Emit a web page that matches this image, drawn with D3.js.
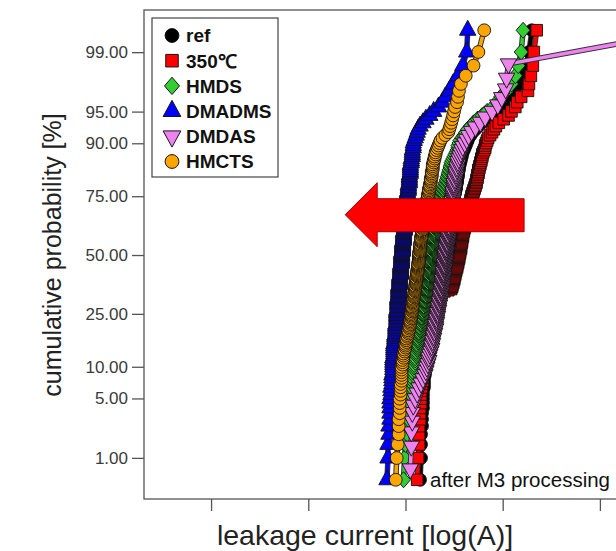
<!DOCTYPE html>
<html>
<head>
<meta charset="utf-8">
<script src="https://cdnjs.cloudflare.com/ajax/libs/d3/7.8.5/d3.min.js"></script>
<style>
  html, body { margin: 0; padding: 0; background: #fff; }
  svg { display: block; font-family: "Liberation Sans", Arial, Helvetica, sans-serif; }
</style>
</head>
<body>
<svg id="chart" width="616" height="551"></svg>
<script>
// ---- data: sorted leakage currents, log10(A), one array per process ----
const seriesNames  = ["ref", "350\u2103", "HMDS", "DMADMS", "DMDAS", "HMCTS"];
const seriesColors = ["#000000", "#ff0000", "#33cc33", "#0000ff", "#ee82ee", "#ffa500"];
const seriesShapes = ["circle", "square", "diamond", "triangleUp", "triangleDown", "circle"];
const probTicks    = [1, 5, 10, 25, 50, 75, 90, 95, 99];
const currentTicks = [-13, -12, -11, -10, -9];

const refValues = [
  -10.85,-10.84,-10.84,-10.84,-10.83,-10.83,-10.83,-10.82,-10.82,-10.82,
  -10.82,-10.82,-10.81,-10.81,-10.81,-10.81,-10.80,-10.80,-10.80,-10.80,
  -10.80,-10.80,-10.79,-10.79,-10.79,-10.78,-10.78,-10.78,-10.77,-10.77,
  -10.77,-10.77,-10.76,-10.76,-10.76,-10.75,-10.75,-10.75,-10.74,-10.74,
  -10.74,-10.74,-10.73,-10.73,-10.73,-10.72,-10.72,-10.72,-10.71,-10.71,
  -10.71,-10.71,-10.70,-10.70,-10.70,-10.69,-10.69,-10.69,-10.68,-10.68,
  -10.68,-10.68,-10.67,-10.67,-10.67,-10.67,-10.66,-10.66,-10.66,-10.66,
  -10.66,-10.66,-10.65,-10.65,-10.65,-10.65,-10.64,-10.64,-10.64,-10.64,
  -10.64,-10.64,-10.63,-10.63,-10.63,-10.63,-10.62,-10.62,-10.62,-10.62,
  -10.62,-10.62,-10.61,-10.61,-10.61,-10.61,-10.60,-10.60,-10.60,-10.60,
  -10.60,-10.60,-10.59,-10.59,-10.59,-10.59,-10.58,-10.58,-10.58,-10.58,
  -10.58,-10.58,-10.57,-10.57,-10.57,-10.57,-10.56,-10.56,-10.56,-10.56,
  -10.56,-10.56,-10.55,-10.55,-10.55,-10.55,-10.54,-10.54,-10.54,-10.54,
  -10.54,-10.54,-10.53,-10.53,-10.53,-10.53,-10.52,-10.52,-10.52,-10.52,
  -10.52,-10.52,-10.51,-10.51,-10.51,-10.51,-10.50,-10.50,-10.50,-10.50,
  -10.50,-10.50,-10.49,-10.49,-10.49,-10.48,-10.48,-10.48,-10.48,-10.47,
  -10.47,-10.47,-10.47,-10.46,-10.46,-10.46,-10.46,-10.45,-10.45,-10.45,
  -10.44,-10.44,-10.43,-10.43,-10.42,-10.42,-10.41,-10.40,-10.39,-10.38,
  -10.37,-10.36,-10.35,-10.33,-10.31,-10.28,-10.25,-10.22,-10.17,-10.11,
  -10.07,-10.03,-9.98,-9.93,-9.88,-9.82,-9.79,-9.76,-9.73,-9.70
];

const anneal350Values = [
  -10.88,-10.87,-10.86,-10.86,-10.86,-10.85,-10.85,-10.85,-10.84,-10.84,
  -10.84,-10.84,-10.83,-10.83,-10.82,-10.82,-10.82,-10.81,-10.81,-10.80,
  -10.80,-10.80,-10.80,-10.79,-10.79,-10.79,-10.79,-10.78,-10.78,-10.78,
  -10.78,-10.78,-10.77,-10.77,-10.77,-10.77,-10.77,-10.76,-10.76,-10.76,
  -10.76,-10.75,-10.75,-10.75,-10.74,-10.74,-10.74,-10.73,-10.73,-10.73,
  -10.72,-10.72,-10.71,-10.71,-10.70,-10.70,-10.69,-10.69,-10.68,-10.68,
  -10.68,-10.67,-10.67,-10.67,-10.66,-10.66,-10.64,-10.60,-10.56,-10.53,
  -10.53,-10.52,-10.52,-10.52,-10.51,-10.51,-10.51,-10.50,-10.50,-10.50,
  -10.50,-10.49,-10.49,-10.49,-10.49,-10.48,-10.48,-10.48,-10.47,-10.47,
  -10.47,-10.47,-10.46,-10.46,-10.46,-10.46,-10.45,-10.45,-10.45,-10.45,
  -10.45,-10.44,-10.44,-10.44,-10.44,-10.43,-10.43,-10.43,-10.43,-10.43,
  -10.43,-10.42,-10.42,-10.42,-10.42,-10.42,-10.41,-10.41,-10.41,-10.41,
  -10.41,-10.40,-10.40,-10.40,-10.39,-10.39,-10.39,-10.39,-10.38,-10.38,
  -10.38,-10.37,-10.37,-10.37,-10.36,-10.36,-10.36,-10.36,-10.35,-10.35,
  -10.35,-10.35,-10.34,-10.34,-10.34,-10.33,-10.33,-10.33,-10.32,-10.32,
  -10.32,-10.31,-10.31,-10.30,-10.30,-10.29,-10.29,-10.28,-10.28,-10.27,
  -10.27,-10.27,-10.26,-10.26,-10.26,-10.25,-10.25,-10.25,-10.24,-10.24,
  -10.23,-10.23,-10.22,-10.22,-10.21,-10.21,-10.20,-10.19,-10.18,-10.18,
  -10.17,-10.16,-10.15,-10.13,-10.11,-10.09,-10.07,-10.04,-9.99,-9.94,
  -9.91,-9.87,-9.85,-9.81,-9.74,-9.73,-9.71,-9.69,-9.68,-9.65
];

const hmdsValues = [
  -11.02,-11.01,-11.00,-10.98,-10.98,-10.97,-10.97,-10.96,-10.96,-10.95,
  -10.95,-10.94,-10.94,-10.93,-10.93,-10.93,-10.92,-10.92,-10.91,-10.91,
  -10.91,-10.90,-10.90,-10.90,-10.89,-10.89,-10.89,-10.88,-10.88,-10.88,
  -10.88,-10.87,-10.87,-10.87,-10.86,-10.86,-10.86,-10.86,-10.85,-10.85,
  -10.85,-10.84,-10.84,-10.84,-10.83,-10.83,-10.83,-10.83,-10.82,-10.82,
  -10.82,-10.82,-10.81,-10.81,-10.81,-10.81,-10.80,-10.80,-10.80,-10.80,
  -10.80,-10.79,-10.79,-10.79,-10.79,-10.78,-10.78,-10.78,-10.78,-10.78,
  -10.78,-10.77,-10.77,-10.77,-10.77,-10.77,-10.76,-10.76,-10.76,-10.76,
  -10.76,-10.76,-10.76,-10.75,-10.75,-10.75,-10.75,-10.75,-10.75,-10.75,
  -10.74,-10.74,-10.74,-10.74,-10.74,-10.74,-10.73,-10.73,-10.73,-10.73,
  -10.73,-10.73,-10.73,-10.73,-10.72,-10.72,-10.72,-10.72,-10.72,-10.72,
  -10.72,-10.71,-10.71,-10.71,-10.71,-10.71,-10.71,-10.70,-10.70,-10.70,
  -10.70,-10.70,-10.70,-10.69,-10.69,-10.69,-10.69,-10.69,-10.68,-10.68,
  -10.68,-10.68,-10.68,-10.67,-10.67,-10.67,-10.67,-10.66,-10.66,-10.66,
  -10.66,-10.66,-10.65,-10.65,-10.65,-10.64,-10.64,-10.64,-10.63,-10.63,
  -10.63,-10.62,-10.62,-10.62,-10.61,-10.61,-10.60,-10.60,-10.59,-10.59,
  -10.58,-10.58,-10.57,-10.57,-10.56,-10.56,-10.55,-10.55,-10.54,-10.54,
  -10.53,-10.53,-10.52,-10.51,-10.50,-10.49,-10.48,-10.47,-10.46,-10.46,
  -10.45,-10.44,-10.42,-10.40,-10.38,-10.36,-10.33,-10.30,-10.26,-10.21,
  -10.16,-10.10,-10.06,-10.02,-9.96,-9.91,-9.87,-9.84,-9.81,-9.79
];

const dmadmsValues = [
  -11.19,-11.18,-11.18,-11.17,-11.17,-11.16,-11.16,-11.16,-11.16,-11.16,
  -11.15,-11.15,-11.15,-11.14,-11.14,-11.14,-11.14,-11.13,-11.13,-11.13,
  -11.13,-11.13,-11.13,-11.13,-11.12,-11.12,-11.12,-11.12,-11.12,-11.12,
  -11.12,-11.11,-11.11,-11.11,-11.11,-11.11,-11.10,-11.10,-11.10,-11.10,
  -11.10,-11.10,-11.10,-11.09,-11.09,-11.09,-11.09,-11.09,-11.09,-11.09,
  -11.09,-11.09,-11.09,-11.08,-11.08,-11.08,-11.08,-11.08,-11.08,-11.08,
  -11.08,-11.08,-11.08,-11.07,-11.07,-11.07,-11.07,-11.07,-11.07,-11.07,
  -11.07,-11.07,-11.07,-11.06,-11.06,-11.06,-11.06,-11.06,-11.06,-11.06,
  -11.06,-11.06,-11.05,-11.05,-11.05,-11.05,-11.05,-11.05,-11.05,-11.05,
  -11.05,-11.05,-11.04,-11.04,-11.04,-11.04,-11.04,-11.04,-11.04,-11.04,
  -11.04,-11.04,-11.04,-11.03,-11.03,-11.03,-11.03,-11.03,-11.03,-11.03,
  -11.03,-11.03,-11.03,-11.02,-11.02,-11.02,-11.02,-11.02,-11.02,-11.02,
  -11.02,-11.02,-11.01,-11.01,-11.01,-11.01,-11.01,-11.01,-11.01,-11.01,
  -11.01,-11.00,-11.00,-11.00,-11.00,-11.00,-10.99,-10.99,-10.99,-10.99,
  -10.99,-10.99,-10.99,-10.99,-10.99,-10.98,-10.98,-10.98,-10.98,-10.98,
  -10.98,-10.98,-10.98,-10.98,-10.97,-10.97,-10.97,-10.97,-10.97,-10.96,
  -10.96,-10.96,-10.96,-10.96,-10.96,-10.95,-10.95,-10.95,-10.95,-10.95,
  -10.95,-10.94,-10.94,-10.94,-10.93,-10.93,-10.93,-10.93,-10.92,-10.92,
  -10.92,-10.91,-10.90,-10.89,-10.88,-10.87,-10.85,-10.82,-10.79,-10.75,
  -10.71,-10.66,-10.62,-10.59,-10.55,-10.51,-10.46,-10.41,-10.37,-10.36
];

const dmdasValues = [
  -10.95,-10.94,-10.94,-10.93,-10.93,-10.92,-10.90,-10.88,-10.86,-10.84,
  -10.82,-10.80,-10.79,-10.78,-10.77,-10.76,-10.76,-10.75,-10.74,-10.73,
  -10.73,-10.72,-10.72,-10.71,-10.71,-10.70,-10.70,-10.69,-10.69,-10.69,
  -10.68,-10.68,-10.68,-10.67,-10.67,-10.67,-10.66,-10.66,-10.66,-10.65,
  -10.65,-10.65,-10.64,-10.64,-10.64,-10.64,-10.63,-10.63,-10.63,-10.63,
  -10.62,-10.62,-10.62,-10.62,-10.62,-10.61,-10.61,-10.61,-10.61,-10.61,
  -10.60,-10.60,-10.60,-10.60,-10.60,-10.59,-10.59,-10.59,-10.59,-10.59,
  -10.59,-10.58,-10.58,-10.58,-10.58,-10.57,-10.57,-10.57,-10.57,-10.56,
  -10.56,-10.56,-10.56,-10.56,-10.55,-10.55,-10.55,-10.55,-10.55,-10.54,
  -10.54,-10.54,-10.54,-10.53,-10.53,-10.53,-10.53,-10.53,-10.52,-10.52,
  -10.52,-10.52,-10.52,-10.51,-10.51,-10.51,-10.51,-10.51,-10.50,-10.50,
  -10.50,-10.50,-10.49,-10.49,-10.48,-10.48,-10.48,-10.47,-10.47,-10.46,
  -10.46,-10.45,-10.44,-10.43,-10.42,-10.41,-10.39,-10.37,-10.35,-10.32,
  -10.28,-10.23,-10.18,-10.11,-10.05,-10.01,-9.97,-9.96,-9.94,-8.67
];

const hmctsValues = [
  -11.10,-11.09,-11.08,-11.07,-11.07,-11.07,-11.06,-11.06,-11.06,-11.06,
  -11.05,-11.05,-11.05,-11.05,-11.04,-11.04,-11.04,-11.04,-11.04,-11.04,
  -11.03,-11.03,-11.03,-11.02,-11.02,-11.02,-11.01,-11.01,-11.00,-11.00,
  -11.00,-10.99,-10.99,-10.99,-10.98,-10.98,-10.97,-10.97,-10.97,-10.96,
  -10.96,-10.96,-10.95,-10.95,-10.95,-10.95,-10.94,-10.94,-10.94,-10.94,
  -10.94,-10.93,-10.93,-10.93,-10.93,-10.93,-10.92,-10.92,-10.92,-10.92,
  -10.92,-10.92,-10.91,-10.91,-10.91,-10.91,-10.91,-10.90,-10.90,-10.90,
  -10.90,-10.90,-10.90,-10.89,-10.89,-10.89,-10.89,-10.89,-10.89,-10.89,
  -10.88,-10.88,-10.88,-10.88,-10.88,-10.88,-10.87,-10.87,-10.87,-10.87,
  -10.87,-10.87,-10.87,-10.86,-10.86,-10.86,-10.86,-10.86,-10.86,-10.86,
  -10.86,-10.86,-10.86,-10.85,-10.85,-10.85,-10.85,-10.85,-10.85,-10.85,
  -10.85,-10.84,-10.84,-10.84,-10.84,-10.84,-10.84,-10.83,-10.83,-10.83,
  -10.83,-10.83,-10.83,-10.82,-10.82,-10.82,-10.82,-10.82,-10.81,-10.81,
  -10.81,-10.81,-10.81,-10.80,-10.80,-10.80,-10.80,-10.80,-10.79,-10.79,
  -10.79,-10.79,-10.79,-10.78,-10.78,-10.78,-10.78,-10.78,-10.77,-10.77,
  -10.77,-10.77,-10.76,-10.76,-10.76,-10.76,-10.75,-10.75,-10.75,-10.74,
  -10.74,-10.74,-10.74,-10.73,-10.73,-10.73,-10.73,-10.72,-10.72,-10.72,
  -10.72,-10.71,-10.71,-10.70,-10.70,-10.69,-10.69,-10.68,-10.67,-10.66,
  -10.65,-10.64,-10.62,-10.59,-10.56,-10.55,-10.54,-10.53,-10.52,-10.51,
  -10.50,-10.49,-10.47,-10.46,-10.45,-10.43,-10.38,-10.30,-10.25,-10.19
];

const seriesValues = [refValues, anneal350Values, hmdsValues, dmadmsValues, dmdasValues, hmctsValues];

// ---- normal-probability helper (inverse standard normal CDF) ----
function probit(p) {
  const a = [-3.969683028665376e+01, 2.209460984245205e+02, -2.759285104469687e+02,
             1.383577518672690e+02, -3.066479806614716e+01, 2.506628277459239e+00];
  const b = [-5.447609879822406e+01, 1.615858368580409e+02, -1.556989798598866e+02,
             6.680131188771972e+01, -1.328068155288572e+01];
  const c = [-7.784894002430293e-03, -3.223964580411365e-01, -2.400758277161838e+00,
             -2.549732539343734e+00, 4.374664141464968e+00, 2.938163982698783e+00];
  const d = [7.784695709041462e-03, 3.224671290700398e-01, 2.445134137142996e+00,
             3.754408661907416e+00];
  const lo = 0.02425, hi = 1 - lo;
  let q, r;
  if (p < lo) {
    q = Math.sqrt(-2 * Math.log(p));
    return (((((c[0]*q+c[1])*q+c[2])*q+c[3])*q+c[4])*q+c[5]) / ((((d[0]*q+d[1])*q+d[2])*q+d[3])*q+1);
  }
  if (p <= hi) {
    q = p - 0.5; r = q * q;
    return (((((a[0]*r+a[1])*r+a[2])*r+a[3])*r+a[4])*r+a[5])*q / (((((b[0]*r+b[1])*r+b[2])*r+b[3])*r+b[4])*r+1);
  }
  q = Math.sqrt(-2 * Math.log(1 - p));
  return -(((((c[0]*q+c[1])*q+c[2])*q+c[3])*q+c[4])*q+c[5]) / ((((d[0]*q+d[1])*q+d[2])*q+d[3])*q+1);
}

// ---- layout ----
const svg = d3.select("#chart");
const plot = { left: 144, top: 10, width: 536, height: 489 };

const x = d3.scaleLinear().domain([-13.69, -8.176]).range([plot.left, plot.left + plot.width]);
const z = d3.scaleLinear().domain([-2.798, 2.810]).range([plot.top + plot.height, plot.top]);
const yProb = pct => z(probit(pct / 100));

// ---- marker shapes ----
const shapeTypes = {
  circle:       { draw(ctx) { ctx.moveTo(6.4, 0); ctx.arc(0, 0, 6.4, 0, 2 * Math.PI); } },
  square:       { draw(ctx) { ctx.rect(-5.8, -5.8, 11.6, 11.6); } },
  diamond:      { draw(ctx) { ctx.moveTo(0, -8); ctx.lineTo(7, 0); ctx.lineTo(0, 8); ctx.lineTo(-7, 0); ctx.closePath(); } },
  triangleUp:   { draw(ctx) { ctx.moveTo(0, -10); ctx.lineTo(8.2, 5); ctx.lineTo(-8.2, 5); ctx.closePath(); } },
  triangleDown: { draw(ctx) { ctx.moveTo(0, 10); ctx.lineTo(8.2, -5); ctx.lineTo(-8.2, -5); ctx.closePath(); } }
};
const symbolPath = name => d3.symbol().type(shapeTypes[name])();

// ---- frame ----
svg.append("rect")
  .attr("x", plot.left).attr("y", plot.top)
  .attr("width", plot.width).attr("height", plot.height)
  .attr("fill", "#fff").attr("stroke", "#555").attr("stroke-width", 1.3);

// left axis: probability on a normal scale
const yAxis = d3.axisLeft(z)
  .tickValues(probTicks.map(p => probit(p / 100)))
  .tickFormat((v, i) => probTicks[i].toFixed(2))
  .tickSize(12).tickPadding(4);
const gy = svg.append("g").attr("transform", `translate(${plot.left},0)`).call(yAxis);
gy.select(".domain").remove();
gy.selectAll(".tick line").attr("stroke", "#555").attr("stroke-width", 1.3);
gy.selectAll(".tick text").attr("fill", "#3a3a3a").style("font-size", "17px");

// bottom axis: log current, unlabeled decades
const xAxis = d3.axisBottom(x).tickValues(currentTicks).tickFormat("").tickSize(12);
const gx = svg.append("g").attr("transform", `translate(0,${plot.top + plot.height})`).call(xAxis);
gx.select(".domain").remove();
gx.selectAll(".tick line").attr("stroke", "#555").attr("stroke-width", 1.3);

// ---- series ----
const plotArea = svg.append("g");
const line = d3.line().x(d => x(d.v)).y(d => yProb(d.p));

seriesValues.forEach((vals, s) => {
  const n = vals.length;
  const pts = vals.map((v, i) => ({ v, p: 100 * (i + 1) / (n + 1) }));
  const g = plotArea.append("g");
  g.append("path").datum(pts).attr("d", line)
    .attr("fill", "none").attr("stroke", "#333").attr("stroke-width", 5.5).attr("stroke-linejoin", "round");
  g.append("path").datum(pts).attr("d", line)
    .attr("fill", "none").attr("stroke", seriesColors[s]).attr("stroke-width", 3.5).attr("stroke-linejoin", "round");
  g.selectAll("path.mk").data(pts).join("path").attr("class", "mk")
    .attr("d", symbolPath(seriesShapes[s]))
    .attr("transform", d => `translate(${x(d.v)},${yProb(d.p)})`)
    .attr("fill", seriesColors[s]).attr("stroke", "#111").attr("stroke-width", 0.9);
});

// ---- shift arrow ----
const arrowTip = { v: -11.62, p: 67.8 };
const arrowTail = -9.78;
const tx = x(arrowTip.v), ty = yProb(arrowTip.p), ex = x(arrowTail);
svg.append("path")
  .attr("d", `M${tx},${ty} L${tx + 32},${ty - 32} L${tx + 32},${ty - 16} L${ex},${ty - 16} L${ex},${ty + 17} L${tx + 32},${ty + 17} L${tx + 32},${ty + 32} Z`)
  .attr("fill", "#ff0000").attr("stroke", "#a00000").attr("stroke-width", 1);

// ---- annotation ----
svg.append("text").attr("x", 430).attr("y", 487)
  .attr("fill", "#111").style("font-size", "20.5px").text("after M3 processing");

// ---- legend ----
const legend = svg.append("g");
legend.append("rect").attr("x", 152).attr("y", 18).attr("width", 126).attr("height", 159)
  .attr("fill", "#fff").attr("stroke", "#444").attr("stroke-width", 1.2);
seriesNames.forEach((name, i) => {
  const ly = 35.5 + i * 25.2;
  legend.append("path").attr("d", symbolPath(seriesShapes[i]))
    .attr("transform", `translate(172,${ly}) scale(1.08)`)
    .attr("fill", seriesColors[i]).attr("stroke", "#111").attr("stroke-width", 0.9);
  legend.append("text").attr("x", 186).attr("y", ly).attr("dy", "0.36em")
    .attr("fill", "#111").style("font-size", "19px").style("font-weight", "bold").text(name);
});

// ---- axis titles ----
svg.append("text").attr("x", 365).attr("y", 545).attr("text-anchor", "middle")
  .attr("fill", "#222").style("font-size", "28.5px").text("leakage current [log(A)]");
svg.append("text").attr("transform", "translate(61,255) rotate(-90)").attr("text-anchor", "middle")
  .attr("fill", "#222").style("font-size", "25px").text("cumulative probability [%]");
</script>
</body>
</html>
